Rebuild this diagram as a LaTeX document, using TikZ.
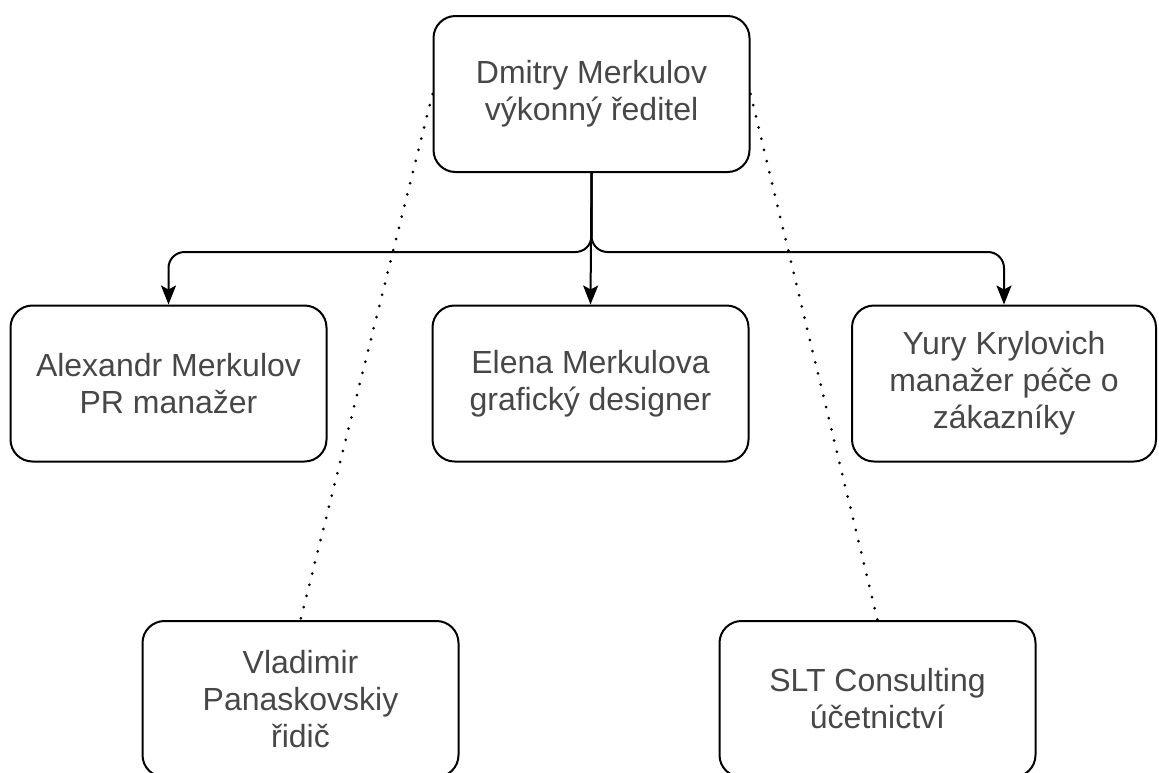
\documentclass[tikz,border=0pt]{standalone}
\usepackage{fontspec}
\setmainfont{Liberation Sans}
\usetikzlibrary{arrows.meta}
\tikzset{
  person/.style={draw, line width=2pt, rounded corners=22pt, minimum width=316pt,
    minimum height=156pt, align=center, text=black!72, font=\fontsize{32}{37}\selectfont},
  report/.style={line width=2pt, rounded corners=16pt, -{Stealth[length=19pt,width=15pt,inset=4pt]}},
  external/.style={line width=3pt, line cap=round, dash pattern=on 0pt off 11.5pt}
}
\begin{document}
\begin{tikzpicture}[x=1pt,y=-1pt]
\useasboundingbox (0,0) rectangle (1159,772);
\clip (0,0) rectangle (1159,772);
% people
\node[person] (ceo) at (591.5,94) {Dmitry Merkulov\\výkonný ředitel};
\node[person] (pr) at (168.5,383.5) {Alexandr Merkulov\\PR manažer};
\node[person] (design) at (590.5,383.5) {Elena Merkulova\\grafický designer};
\node[person, minimum width=304pt] (care) at (1004,383.5) {Yury Krylovich\\manažer péče o\\zákazníky};
\node[person] (driver) at (300.5,699) {Vladimir\\Panaskovskiy\\řidič};
\node[person] (account) at (877.5,699) {SLT Consulting\\účetnictví};
% reporting lines
\draw[report] (ceo.south) -- ++(0,79) -| (pr.north);
\draw[report] (ceo.south) -- (design.north);
\draw[report] (ceo.south) -- ++(0,79) -| (care.north);
% outside staff
\draw[external] (ceo.west) -- (driver.north);
\draw[external] (ceo.east) -- (account.north);
\end{tikzpicture}
\end{document}
